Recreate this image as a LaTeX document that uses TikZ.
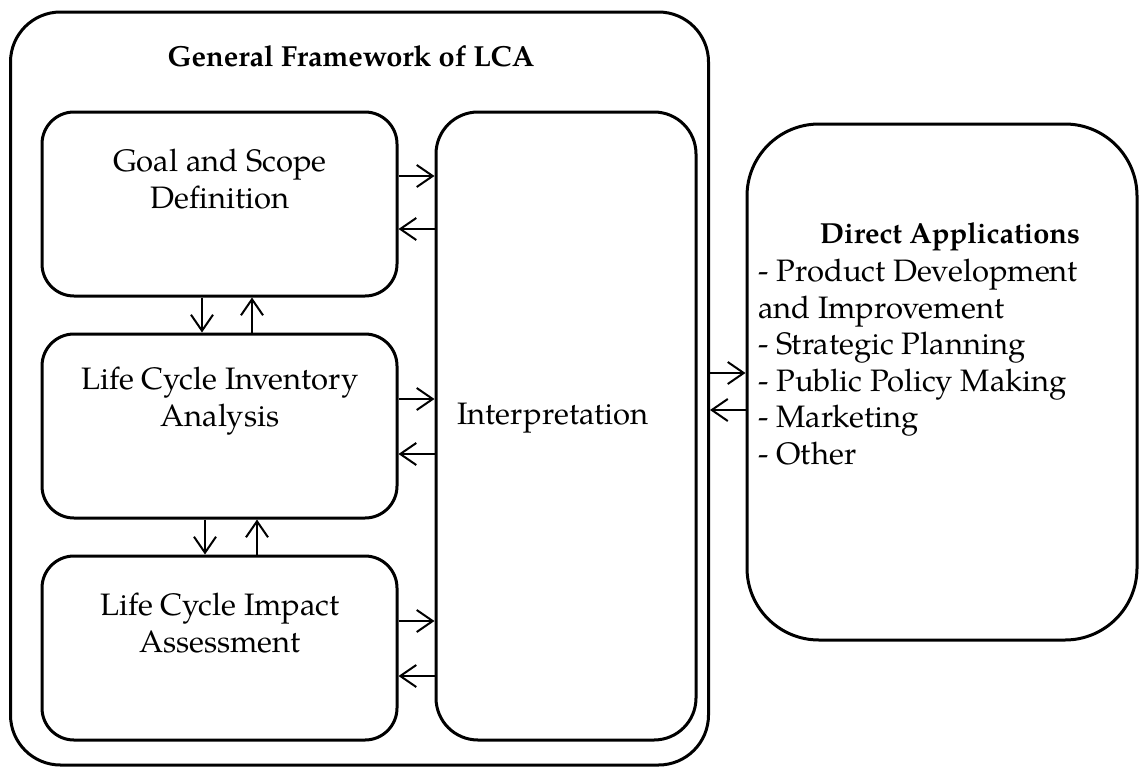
\documentclass[tikz,border=0pt]{standalone}
\usepackage{fontspec}
\setmainfont{texgyrepagella-regular.otf}[BoldFont=texgyrepagella-bold.otf]
\usetikzlibrary{arrows.meta}
\begin{document}
\begin{tikzpicture}[x=1pt,y=-1pt,
  frame/.style={draw,line width=3pt,rounded corners=#1,inner sep=0pt},
  txt/.style={align=center,font=\fontsize{31}{36.5}\selectfont,inner sep=0pt},
  head/.style={inner sep=0pt,font=\fontsize{29}{36.5}\selectfont\bfseries},
  flow/.style={line width=2pt,-{Straight Barb[length=16pt,width=22pt,line width=2pt]}}]
\useasboundingbox (0,0) rectangle (1139,771);

% outer frame
\node[frame=50pt,minimum width=698pt,minimum height=753pt] (lca) at (359.5,388.5) {};
\node[head] (title) at (351,56) {General Framework of LCA};

% phase boxes
\node[frame=32pt,minimum width=355pt,minimum height=184pt] (goal) at (219.5,204) {};
\node[frame=32pt,minimum width=355pt,minimum height=184pt] (lci)  at (219.5,426) {};
\node[frame=32pt,minimum width=355pt,minimum height=184pt] (lcia) at (219.5,648) {};
\node[frame=42pt,minimum width=260pt,minimum height=628pt] (interp) at (566,426) {};

\node[txt] (goalt) at (220,179) {Goal and Scope\\Definition};
\node[txt] (lcit)  at (220,401) {Life Cycle Inventory\\Analysis};
\node[txt] (lciat) at (220,623) {Life Cycle Impact\\Assessment};
\node[txt] (interpt) at (553,418) {Interpretation};

% applications box
\node[frame=72pt,minimum width=390pt,minimum height=516pt] (apps) at (942,382) {};
\node[head] (appst) at (950,237) {Direct Applications};
\node[txt,align=left,anchor=north west] (appsl) at (758,259)
  {- Product Development\\and Improvement\\- Strategic Planning\\- Public Policy Making\\- Marketing\\- Other};

% phase <-> interpretation
\draw[flow] (goal.east |- 0,176) -- (interp.west |- 0,176);
\draw[flow] (interp.west |- 0,229) -- (goal.east |- 0,229);
\draw[flow] (lci.east |- 0,399) -- (interp.west |- 0,399);
\draw[flow] (interp.west |- 0,454) -- (lci.east |- 0,454);
\draw[flow] (lcia.east |- 0,621) -- (interp.west |- 0,621);
\draw[flow] (interp.west |- 0,676) -- (lcia.east |- 0,676);

% phase <-> phase
\draw[flow] (goal.south -| 202,0) -- (lci.north -| 202,0);
\draw[flow] (lci.north -| 252,0) -- (goal.south -| 252,0);
\draw[flow] (lci.south -| 205,0) -- (lcia.north -| 205,0);
\draw[flow] (lcia.north -| 257,0) -- (lci.south -| 257,0);

% framework <-> applications
\draw[flow] (lca.east |- 0,373) -- (apps.west |- 0,373);
\draw[flow] (apps.west |- 0,410) -- (lca.east |- 0,410);
\end{tikzpicture}
\end{document}
